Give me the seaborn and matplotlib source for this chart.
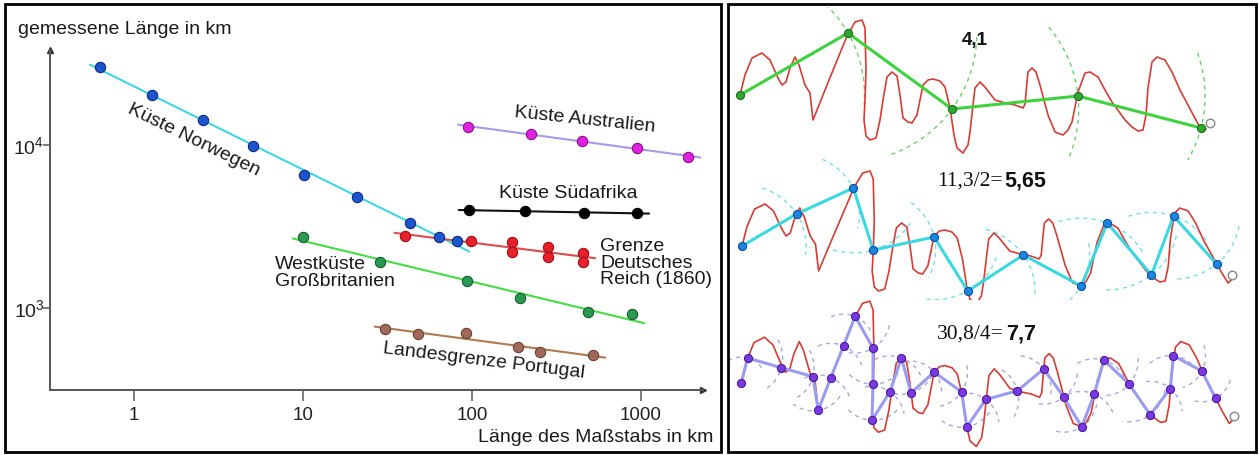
import numpy as np
import pandas as pd
import matplotlib
matplotlib.use("Agg")
import matplotlib.pyplot as plt
import seaborn as sns
from matplotlib.patches import Rectangle

sns.set_theme(style="white")
plt.rcParams['font.family'] = ['Liberation Sans', 'DejaVu Sans']
plt.rcParams['mathtext.fontset'] = 'custom'
plt.rcParams['mathtext.rm'] = 'Liberation Sans'
plt.rcParams['mathtext.it'] = 'Liberation Sans'

# ---------------- Daten: gemessene Küstenlängen (Richardson) ----------------
norw_x = [0.63, 1.28, 2.56, 5.06, 10.1, 20.9, 43, 64, 81.5]
norw_y = [30100, 20300, 14200, 9860, 6540, 4800, 3320, 2730, 2580]
aus_x = [95, 225, 450, 950, 1900]
aus_y = [12900, 11700, 10600, 9590, 8440]
sa_x = [96, 206, 460, 947]
sa_y = [3990, 3930, 3830, 3830]
dr_x = [40, 99, 173, 173, 282, 282, 454, 454]
dr_y = [2770, 2580, 2540, 2210, 2370, 2060, 2170, 1910]
gb_x = [10, 28.6, 93, 192, 486, 885]
gb_y = [2730, 1920, 1470, 1150, 944, 918]
pt_x = [30.5, 48, 92, 187, 253, 520]
pt_y = [743, 692, 703, 577, 537, 515]

x_ticks = [1, 10, 100, 1000]
x_ticklabels = ['1', '10', '100', '1000']
y_ticks = [1e3, 1e4]
y_ticklabels = ['$10^3$', '$10^4$']

# ---------------- Daten: Kurve und Maßstäbe (rechtes Bild) ----------------
curve_x = [740, 745, 752, 762, 770, 778, 782, 786, 790, 795, 799, 805, 810, 813,
           825, 838, 847, 855, 862, 865, 866, 865, 864, 866, 870, 876, 880, 883,
           887, 892, 897, 900, 903, 908, 912, 917, 920, 923, 928, 933, 940, 945,
           950, 954, 957, 963, 968, 970, 973, 975, 980, 985, 995, 1005, 1015,
           1023, 1025, 1027, 1028, 1032, 1036, 1040, 1048, 1055, 1063, 1068,
           1072, 1078, 1085, 1090, 1098, 1105, 1112, 1125, 1132, 1138, 1143,
           1146, 1148, 1152, 1157, 1165, 1172, 1180, 1188, 1197, 1203, 1206]
curve_y = [95, 75, 58, 53, 60, 78, 85, 82, 68, 57, 65, 85, 93, 120,
           90, 58, 36, 22, 20, 28, 70, 100, 120, 136, 140, 138, 120, 100,
           77, 72, 76, 95, 118, 122, 123, 115, 100, 85, 80, 79, 81, 87,
           108, 135, 148, 153, 145, 132, 105, 88, 82, 87, 100, 103, 105,
           108, 104, 82, 72, 68, 72, 85, 115, 132, 135, 130,
           122, 92, 73, 72, 77, 90, 102, 120, 127, 131, 130,
           115, 88, 62, 57, 60, 72, 90, 105, 122, 132, 129]

ruler1_x = [740, 848, 952, 1078, 1201]
ruler1_y = [95, 33, 109, 96, 128]
ruler2_x = [740, 792, 846, 865, 923, 955, 1008, 1063, 1088, 1130, 1151, 1192]
ruler2_y = [95, 63, 37, 99, 86, 140, 104, 135, 72, 124, 65, 113]
ruler3_x = [740, 746, 778, 808, 813, 825, 837, 848, 865, 865, 864, 881, 892, 901,
            923, 949, 954, 972, 1002, 1027, 1046, 1063, 1075, 1084, 1108, 1128,
            1147, 1150, 1177, 1190]
ruler3_y = [95, 72, 81, 89, 120, 90, 61, 34, 63, 96, 129, 103, 72, 104,
            85, 103, 135, 110, 102, 82, 108, 135, 105, 74, 96, 124,
            100, 70, 84, 109]
end_x = [1210, 1207, 1207]
end_y = [123, 124, 125]

W, H = 1259, 455
fig = plt.figure(figsize=(W / 100, H / 100), dpi=100)


def fpos(x, y):
    return x / W, 1 - y / H


def fbox(x0, y0, x1, y1):
    return [x0 / W, 1 - y1 / H, (x1 - x0) / W, (y1 - y0) / H]


# Rahmen
for (x0, y0, x1, y1) in [(5, 4, 721, 452), (728, 4, 1256, 452)]:
    fig.patches.append(Rectangle((x0 / W, 1 - y1 / H), (x1 - x0) / W, (y1 - y0) / H,
                                 transform=fig.transFigure, fill=False,
                                 edgecolor='black', lw=2))

# ---------------- linkes Diagramm ----------------
ax = fig.add_axes(fbox(50, 50, 703, 390))
ax.set_xscale('log')
ax.set_yscale('log')
ax.set_xlim(0.318, 2330)
ax.set_ylim(314, 38300)
ax.patch.set_alpha(0)

series = [
    (norw_x, norw_y, '#1d55d0', '#0b2a7a', '#3fd6e6'),
    (aus_x, aus_y, '#e022e0', '#8a108a', '#a99ae8'),
    (sa_x, sa_y, '#000000', '#000000', '#111111'),
    (dr_x, dr_y, '#e8202c', '#9a1018', '#e04a4a'),
    (gb_x, gb_y, '#2a9a52', '#145c2c', '#44dd44'),
    (pt_x, pt_y, '#a0695a', '#6a4034', '#b07a50'),
]

for xs, ys, fc, ec, lc in series:
    lx, ly = np.log10(xs), np.log10(ys)
    coef = np.polyfit(lx, ly, 1)
    fit_x = np.array([min(xs) * 0.87, max(xs) * 1.18])
    fit_y = 10 ** np.polyval(coef, np.log10(fit_x))
    sns.lineplot(x=fit_x, y=fit_y, ax=ax, color=lc, lw=1.5, zorder=2)
    df = pd.DataFrame({'x': xs, 'y': ys})
    sns.scatterplot(data=df, x='x', y='y', ax=ax, color=fc, edgecolor=ec,
                    linewidth=0.8, s=55, zorder=3, legend=False)

for side in ['top', 'right']:
    ax.spines[side].set_visible(False)
for side in ['left', 'bottom']:
    ax.spines[side].set_color('#555555')
    ax.spines[side].set_linewidth(1.4)
ax.plot(1, 0, marker='>', ms=5, color='#333333', transform=ax.transAxes, clip_on=False)
ax.plot(0, 1, marker='^', ms=4, color='#333333', transform=ax.transAxes, clip_on=False)

ax.set_xticks(x_ticks)
ax.set_xticklabels(x_ticklabels)
ax.set_yticks(y_ticks)
ax.set_yticklabels(y_ticklabels)
ax.minorticks_off()
ax.tick_params(axis='x', direction='out', length=8, width=1.2, color='#666666',
               labelsize=13.5, pad=4, labelcolor='#222222', bottom=True)
ax.tick_params(axis='y', direction='out', length=5, width=1.2, color='#666666',
               labelsize=14, pad=-1, labelcolor='#222222', left=True)
ax.set_xlabel('')
ax.set_ylabel('')
ax.grid(False)

txt = dict(fontsize=14, color='#1a1a1a')
fig.text(*fpos(18, 30), 'gemessene Länge in km', ha='left', va='center', **txt)
fig.text(*fpos(713, 437), 'Länge des Maßstabs in km', ha='right', va='center', **txt)
fig.text(*fpos(194, 140), 'Küste Norwegen', ha='center', va='center', rotation=-26,
         rotation_mode='anchor', **txt)
fig.text(*fpos(585, 120), 'Küste Australien', ha='center', va='center', rotation=-6,
         rotation_mode='anchor', **txt)
fig.text(*fpos(568, 193), 'Küste Südafrika', ha='center', va='center', **txt)
fig.text(*fpos(600, 263), 'Grenze\nDeutsches\nReich (1860)', ha='left', va='center',
         linespacing=0.95, **txt)
fig.text(*fpos(275, 273), 'Westküste\nGroßbritanien', ha='left', va='center',
         linespacing=0.95, **txt)
fig.text(*fpos(484, 361), 'Landesgrenze Portugal', ha='center', va='center',
         rotation=-7, rotation_mode='anchor', **txt)

# ---------------- rechtes Bild: Messen mit Zirkel ----------------
panels = [
    # fig-Bereich, xlim, ylim, Farben, Bogenbreite
    ((730, 7, 1253, 160), (730, 1253), (160, 7), ruler1_x, ruler1_y,
     '#3fd23f', '#2fa82f', '#1f6e1f', '#6ccf6c', 0.6),
    ((730, 150, 1253, 300), (728.6, 1226.7), (149, -1), ruler2_x, ruler2_y,
     '#3ad8e0', '#1a86e0', '#0d4ea0', '#7adfe0', 0.7),
    ((730, 297, 1253, 452), (729.3, 1225.5), (158.1, 16.2), ruler3_x, ruler3_y,
     '#9a9cf0', '#7a3ae0', '#4a1aa0', '#a8a8e0', 0.8),
]

for idx, (box, xl, yl, rx, ry, lc, mc, mec, arc_c, span) in enumerate(panels):
    a = fig.add_axes(fbox(*box))
    a.axis('off')
    a.patch.set_alpha(0)
    # Zirkelbögen um den jeweils vorigen Punkt
    for i in range(1, len(rx)):
        dx, dy = rx[i] - rx[i - 1], ry[i] - ry[i - 1]
        r = np.hypot(dx, dy)
        t0 = np.arctan2(dy, dx)
        t = np.linspace(t0 - span, t0 + span, 60)
        a.plot(rx[i - 1] + r * np.cos(t), ry[i - 1] + r * np.sin(t),
               color=arc_c, lw=1, ls=(0, (3, 3)), zorder=1)
    sns.lineplot(x=curve_x, y=curve_y, ax=a, color='#d63c36', lw=1.2, sort=False,
                 estimator=None, zorder=2, solid_joinstyle='round')
    sns.lineplot(x=rx, y=ry, ax=a, color=lc, lw=2.2, sort=False, estimator=None,
                 zorder=3)
    a.scatter(rx, ry, s=34, color=mc, edgecolor=mec, linewidth=0.8, zorder=4)
    a.scatter([end_x[idx]], [end_y[idx]], s=38, facecolor='white',
              edgecolor='#888888', linewidth=1, zorder=5)
    a.set_xlim(*xl)
    a.set_ylim(*yl)

fig.text(*fpos(975, 41), '4,1', ha='center', va='center', fontsize=13.5,
         fontweight='bold', color='#111111')
fig.text(*fpos(1003, 181), '11,3/2=', ha='right', va='center', fontsize=15.5,
         family=['Liberation Serif', 'DejaVu Serif'], color='#111111')
fig.text(*fpos(1004, 181), '5,65', ha='left', va='center', fontsize=15.5,
         fontweight='bold', color='#111111')
fig.text(*fpos(1004, 334), '30,8/4=', ha='right', va='center', fontsize=15.5,
         family=['Liberation Serif', 'DejaVu Serif'], color='#111111')
fig.text(*fpos(1006, 334), '7,7', ha='left', va='center', fontsize=15.5,
         fontweight='bold', color='#111111')

fig.savefig('out.png', dpi=100, facecolor='white')
